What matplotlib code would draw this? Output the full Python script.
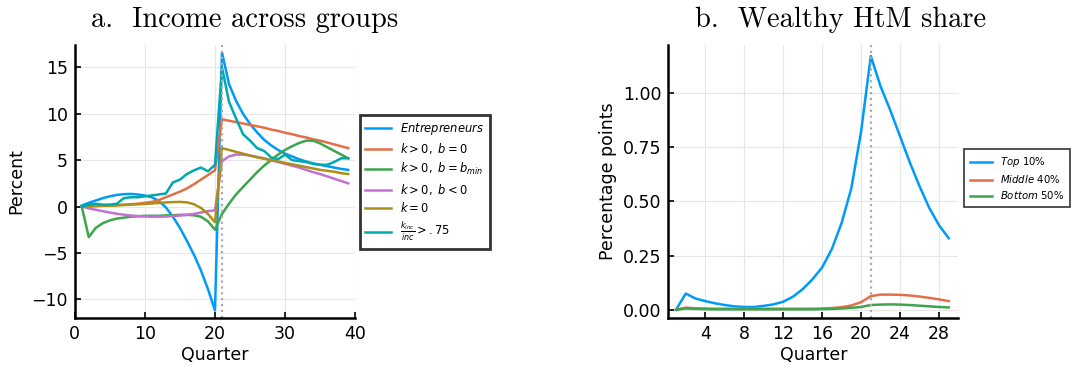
import matplotlib.pyplot as plt

# quarters for each panel
q_a = list(range(1, 40))
q_b = list(range(1, 30))

# a. income across groups (percent)
entre = [0.1, 0.4, 0.65, 0.9, 1.1, 1.25, 1.33, 1.36, 1.3, 1.18, 1.0, 0.6, -0.1, -1.1, -2.3, -3.7, -5.2, -6.9, -8.9, -11.2,
         16.6, 13.2, 11.4, 10.0, 8.9, 8.0, 7.2, 6.6, 6.1, 5.7, 5.4, 5.1, 4.85, 4.65, 4.5, 4.35, 4.2, 4.05, 3.95]
k_b0 = [0.0, 0.02, 0.05, 0.08, 0.12, 0.15, 0.2, 0.25, 0.3, 0.4, 0.5, 0.7, 1.0, 1.3, 1.6, 1.95, 2.4, 2.9, 3.4, 3.9,
        9.4, 9.25, 9.1, 8.95, 8.8, 8.65, 8.5, 8.3, 8.15, 7.95, 7.8, 7.6, 7.45, 7.25, 7.1, 6.9, 6.7, 6.5, 6.3]
k_bmin = [0.0, -3.3, -2.3, -1.8, -1.5, -1.3, -1.2, -1.1, -1.05, -1.0, -1.0, -1.0, -0.95, -0.95, -0.9, -0.9, -0.95, -1.1, -1.6, -2.5,
          -0.8, 0.3, 1.3, 2.1, 2.9, 3.7, 4.4, 5.0, 5.6, 6.1, 6.5, 6.85, 7.1, 7.1, 6.8, 6.4, 6.0, 5.6, 5.2]
k_bneg = [0.0, -0.2, -0.35, -0.5, -0.65, -0.78, -0.88, -0.97, -1.03, -1.07, -1.1, -1.1, -1.08, -1.03, -0.97, -0.9, -0.8, -0.65, -0.5, -0.4,
          4.9, 5.4, 5.6, 5.6, 5.5, 5.35, 5.2, 5.0, 4.8, 4.6, 4.4, 4.2, 3.95, 3.7, 3.5, 3.25, 3.0, 2.75, 2.5]
k_zero = [0.0, 0.03, 0.06, 0.08, 0.1, 0.13, 0.16, 0.2, 0.24, 0.28, 0.33, 0.38, 0.44, 0.48, 0.5, 0.45, 0.25, -0.15, -0.8, -1.7,
          6.3, 6.1, 5.9, 5.7, 5.5, 5.3, 5.15, 5.0, 4.85, 4.7, 4.55, 4.4, 4.25, 4.1, 3.95, 3.85, 3.75, 3.6, 3.5]
k_inc = [0.0, 0.2, 0.3, 0.2, 0.2, 0.3, 0.9, 1.0, 1.0, 1.1, 1.2, 1.3, 1.4, 2.6, 2.9, 3.5, 3.9, 4.2, 3.8, 4.5,
         15.0, 11.3, 9.5, 7.8, 7.1, 6.3, 6.0, 5.3, 5.1, 5.6, 5.0, 4.9, 4.8, 4.6, 4.5, 4.5, 4.8, 5.2, 5.2]

# b. wealthy hand-to-mouth share (percentage points)
top10 = [0.0, 0.075, 0.052, 0.04, 0.03, 0.022, 0.016, 0.013, 0.013, 0.018, 0.025, 0.037, 0.06, 0.095, 0.14, 0.195, 0.28, 0.40, 0.56, 0.82,
         1.17, 1.03, 0.92, 0.80, 0.68, 0.57, 0.47, 0.39, 0.33]
mid40 = [0.0, 0.01, 0.007, 0.006, 0.005, 0.005, 0.005, 0.005, 0.005, 0.005, 0.005, 0.005, 0.005, 0.005, 0.005, 0.006, 0.008, 0.012, 0.02, 0.035,
         0.063, 0.07, 0.07, 0.069, 0.066, 0.061, 0.055, 0.048, 0.04]
bot50 = [0.0, 0.006, 0.004, 0.003, 0.002, 0.002, 0.002, 0.002, 0.002, 0.002, 0.002, 0.002, 0.002, 0.002, 0.002, 0.003, 0.004, 0.006, 0.009, 0.013,
         0.022, 0.024, 0.025, 0.024, 0.022, 0.019, 0.016, 0.013, 0.011]

cols = ['#009AFA', '#E36F47', '#3EA44E', '#C271D2', '#AC8E18', '#00A9AD']

fig = plt.figure(figsize=(10.83, 3.67), dpi=100)
ax1 = fig.add_axes([0.069, 0.134, 0.259, 0.743])
ax2 = fig.add_axes([0.617, 0.134, 0.268, 0.743])


def style(ax):
    ax.grid(True, color='#e6e6e6', linewidth=0.8)
    ax.set_axisbelow(True)
    for s in ['top', 'right']:
        ax.spines[s].set_visible(False)
    for s in ['left', 'bottom']:
        ax.spines[s].set_linewidth(1.8)
    ax.tick_params(direction='in', length=4, width=1.2, labelsize=12.5, pad=5)


series_a = [entre, k_b0, k_bmin, k_bneg, k_zero, k_inc]
labels_a = [r'$Entrepreneurs$', r'$k>0,\ b=0$', r'$k>0,\ b=b_{min}$', r'$k>0,\ b<0$', r'$k=0$',
            r'$\frac{k_{inc}}{inc}>.75$']
for ys, c, lab in zip(series_a, cols, labels_a):
    ax1.plot(q_a, ys, color=c, linewidth=1.8, label=lab)
ax1.axvline(21, color='#aaaaaa', linestyle=':', linewidth=1.6)
ax1.set_xlim(0, 40)
ax1.set_ylim(-12.0, 17.4)
ax1.set_xticks([0, 10, 20, 30, 40])
ax1.set_yticks([-10, -5, 0, 5, 10, 15])
style(ax1)
ax1.set_xlabel('Quarter', fontsize=12.5, labelpad=2)
ax1.set_ylabel('Percent', fontsize=12.5)
fig.text(245 / 1083, 1 - 20 / 367, 'a.  Income across groups', fontfamily='cmr10', fontsize=20.5,
         ha='center', va='center')
leg1 = ax1.legend(loc='upper left', bbox_to_anchor=(0.995, 0.765), fontsize=8.3, frameon=True,
                  fancybox=False, edgecolor='black', handlelength=2.2, borderpad=0.5,
                  labelspacing=0.4, handletextpad=0.8)
leg1.get_frame().set_linewidth(2.0)

labels_b = [r'$Top$ 10%', r'$Middle$ 40%', r'$Bottom$ 50%']
for ys, c, lab in zip([top10, mid40, bot50], cols[:3], labels_b):
    ax2.plot(q_b, ys, color=c, linewidth=1.8, label=lab)
ax2.axvline(21, color='#aaaaaa', linestyle=':', linewidth=1.6)
ax2.set_xlim(0.2, 30)
ax2.set_ylim(-0.037, 1.22)
ax2.set_xticks([4, 8, 12, 16, 20, 24, 28])
ax2.set_yticks([0, 0.25, 0.5, 0.75, 1.0])
ax2.set_yticklabels(['0.00', '0.25', '0.50', '0.75', '1.00'])
style(ax2)
ax2.set_xlabel('Quarter', fontsize=12.5, labelpad=2)
ax2.set_ylabel('Percentage points', fontsize=12.5)
fig.text(841 / 1083, 1 - 20 / 367, 'b.  Wealthy HtM share', fontfamily='cmr10', fontsize=20.5,
         ha='center', va='center')
leg2 = ax2.legend(loc='upper left', bbox_to_anchor=(1.0, 0.637), fontsize=7.3, frameon=True,
                  fancybox=False, edgecolor='black', handlelength=2.2, borderpad=0.6,
                  labelspacing=0.4, handletextpad=0.8)
leg2.get_frame().set_linewidth(1.2)

fig.savefig('out.png', dpi=100)
